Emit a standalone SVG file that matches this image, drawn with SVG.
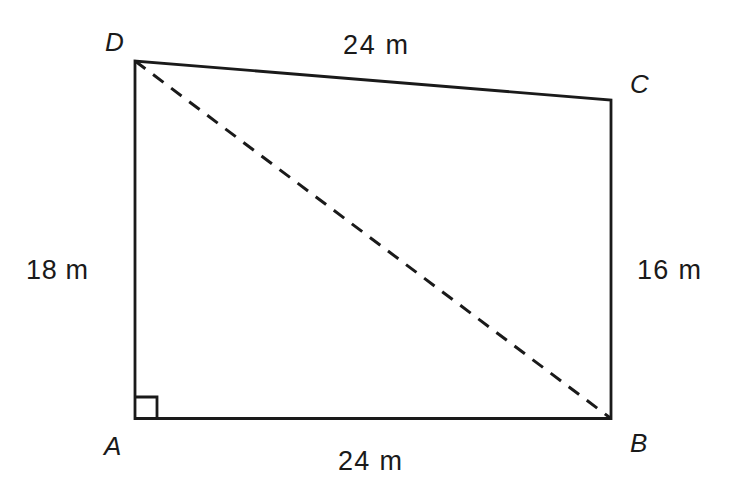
<svg xmlns="http://www.w3.org/2000/svg" width="740" height="503" viewBox="0 0 740 503">
<style>
.edge{fill:none;stroke:#1a1a1a;stroke-width:2.8;stroke-linejoin:miter}
.dash{fill:none;stroke:#1a1a1a;stroke-width:3;stroke-dasharray:13 9.6}
.lbl{font-family:"Liberation Sans",Arial,sans-serif;font-size:27px;fill:#1a1a1a}
.pt{font-family:"Liberation Sans",Arial,sans-serif;font-size:26px;font-style:italic;fill:#1a1a1a}
</style>
<rect width="740" height="503" fill="#ffffff"/>
<g id="connectors">
<polygon class="edge" points="135,418.5 611,418.5 611,100 135,61"/>
<line class="dash" x1="135" y1="61" x2="611" y2="418.5"/>
<polyline class="edge" points="135,397 157,397 157,418.5"/>
</g>
<g id="node-D"><text class="pt" x="105" y="51" textLength="17">D</text></g>
<g id="node-C"><text class="pt" x="630" y="93" textLength="19">C</text></g>
<g id="node-A"><text class="pt" x="104" y="455" textLength="18">A</text></g>
<g id="node-B"><text class="pt" x="630" y="452" textLength="18">B</text></g>
<g id="label-DC"><text class="lbl" x="343" y="54" textLength="65">24 m</text></g>
<g id="label-AD"><text class="lbl" x="26" y="279" textLength="62">18 m</text></g>
<g id="label-BC"><text class="lbl" x="637" y="279" textLength="64">16 m</text></g>
<g id="label-AB"><text class="lbl" x="338" y="470" textLength="64">24 m</text></g>
</svg>
